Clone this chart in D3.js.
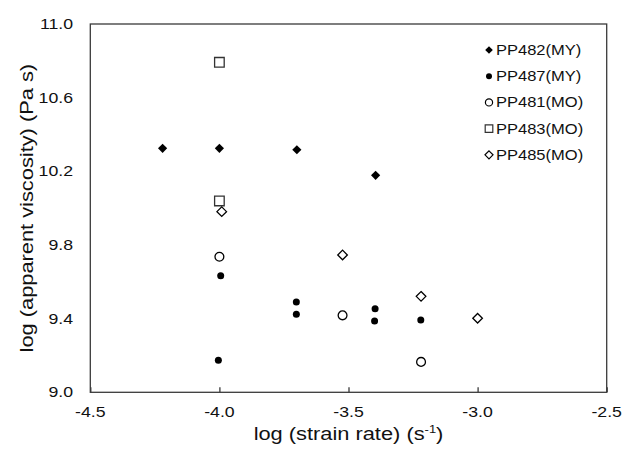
<!DOCTYPE html>
<html>
<head>
<meta charset="utf-8">
<script src="https://cdn.jsdelivr.net/npm/d3@7"></script>
<style>
  body { margin: 0; background: #fff; }
  text { font-family: "Liberation Sans", Arial, sans-serif; fill: #111; }
</style>
</head>
<body>
<div id="chart"></div>
<script>
// values: [log strain rate, log apparent viscosity]
var pp482 = [[-4.22, 10.325], [-4.00, 10.325], [-3.70, 10.317], [-3.395, 10.178]];
var pp487 = [[-3.995, 9.633], [-4.004, 9.174], [-3.702, 9.490], [-3.702, 9.424],
             [-3.397, 9.454], [-3.399, 9.387], [-3.22, 9.393]];
var pp481 = [[-4.00, 9.736], [-3.523, 9.418], [-3.219, 9.165]];
var pp483 = [[-4.00, 10.792], [-4.00, 10.039]];
var pp485 = [[-3.991, 9.981], [-3.523, 9.746], [-3.219, 9.521], [-3.00, 9.402]];

var xTicks = [-4.5, -4.0, -3.5, -3.0, -2.5];
var yTicks = [9.0, 9.4, 9.8, 10.2, 10.6, 11.0];
var legendNames = ["PP482(MY)", "PP487(MY)", "PP481(MO)", "PP483(MO)", "PP485(MO)"];

var width = 622, height = 452;
var plotLeft = 90.3, plotRight = 606.7, plotTop = 24, plotBottom = 392.3;
var stretch = 1.18; // the original font is drawn wider than Arial

var x = d3.scaleLinear().domain([-4.5, -2.5]).range([plotLeft, plotRight]);
var y = d3.scaleLinear().domain([9.0, 11.0]).range([plotBottom, plotTop]);

var fmt = function(d) { return d3.format(".1f")(d).replace("\u2212", "-"); };

// marker shapes, r = half size
function diamond(r) { return "M0," + (-r) + "L" + r + ",0L0," + r + "L" + (-r) + ",0Z"; }
function square(r) { return "M" + (-r) + "," + (-r) + "h" + (2*r) + "v" + (2*r) + "h" + (-2*r) + "Z"; }
function circle(r) { return "M" + r + ",0A" + r + "," + r + " 0 1,1 " + (-r) + ",0A" + r + "," + r + " 0 1,1 " + r + ",0Z"; }

var series = [
  { name: legendNames[0], data: pp482, shape: diamond, r: 4.6, lr: 3.8, fill: "#000", stroke: "none" },
  { name: legendNames[1], data: pp487, shape: circle,  r: 3.5, lr: 3.0, fill: "#000", stroke: "none" },
  { name: legendNames[2], data: pp481, shape: circle,  r: 4.4, lr: 3.6, fill: "#fff", stroke: "#000" },
  { name: legendNames[3], data: pp483, shape: square,  r: 4.8, lr: 3.8, fill: "#fff", stroke: "#333" },
  { name: legendNames[4], data: pp485, shape: diamond, r: 4.8, lr: 4.0, fill: "#fff", stroke: "#000" }
];

var svg = d3.select("#chart").append("svg")
    .attr("width", width)
    .attr("height", height);

// plot frame
svg.append("rect")
    .attr("x", plotLeft).attr("y", plotTop)
    .attr("width", plotRight - plotLeft).attr("height", plotBottom - plotTop)
    .attr("fill", "none")
    .attr("stroke", "#3a3a3a")
    .attr("stroke-width", 1.3);

// x axis: inside ticks, labels below
var xAxis = svg.append("g")
    .attr("transform", "translate(0," + plotBottom + ")")
    .call(d3.axisBottom(x).tickValues(xTicks).tickSizeInner(-5).tickSizeOuter(0).tickFormat(""));
xAxis.select(".domain").remove();
xAxis.selectAll(".tick line").attr("stroke", "#3a3a3a").attr("stroke-width", 1.3);

svg.selectAll(".xlab")
    .data(xTicks)
  .enter().append("text")
    .attr("class", "xlab")
    .attr("text-anchor", "middle")
    .attr("font-size", 15)
    .attr("transform", function(d) { return "translate(" + x(d) + "," + (plotBottom + 25) + ") scale(" + stretch + ",1)"; })
    .text(fmt);

svg.selectAll(".ylab")
    .data(yTicks)
  .enter().append("text")
    .attr("class", "ylab")
    .attr("text-anchor", "end")
    .attr("font-size", 15)
    .attr("transform", function(d) { return "translate(73," + (y(d) + 5) + ") scale(" + stretch + ",1)"; })
    .text(fmt);

// axis titles
var xt = svg.append("text")
    .attr("text-anchor", "middle")
    .attr("font-size", 18.5)
    .attr("transform", "translate(" + ((plotLeft + plotRight) / 2) + ",440) scale(" + stretch + ",1)");
xt.append("tspan").text("log (strain rate) (s");
xt.append("tspan").attr("font-size", 11).attr("dy", -7).text("-1");
xt.append("tspan").attr("dy", 7).text(")");

svg.append("text")
    .attr("text-anchor", "middle")
    .attr("font-size", 18.5)
    .attr("transform", "translate(33," + ((plotTop + plotBottom) / 2) + ") rotate(-90) scale(" + stretch + ",1)")
    .text("log (apparent viscosity) (Pa s)");

// points
series.forEach(function(s) {
  svg.selectAll(null)
      .data(s.data)
    .enter().append("path")
      .attr("d", s.shape(s.r))
      .attr("transform", function(d) { return "translate(" + x(d[0]) + "," + y(d[1]) + ")"; })
      .attr("fill", s.fill)
      .attr("stroke", s.stroke)
      .attr("stroke-width", 1.3);
});

// legend
var legend = svg.selectAll(".legend")
    .data(series)
  .enter().append("g")
    .attr("class", "legend")
    .attr("transform", function(d, i) { return "translate(489," + (50 + i * 26.2) + ")"; });

legend.append("path")
    .attr("d", function(d) { return d.shape(d.lr); })
    .attr("fill", function(d) { return d.fill; })
    .attr("stroke", function(d) { return d.stroke; })
    .attr("stroke-width", 1.2);

legend.append("text")
    .attr("font-size", 14)
    .attr("transform", "translate(7,5) scale(" + stretch + ",1)")
    .text(function(d) { return d.name; });
</script>
</body>
</html>
